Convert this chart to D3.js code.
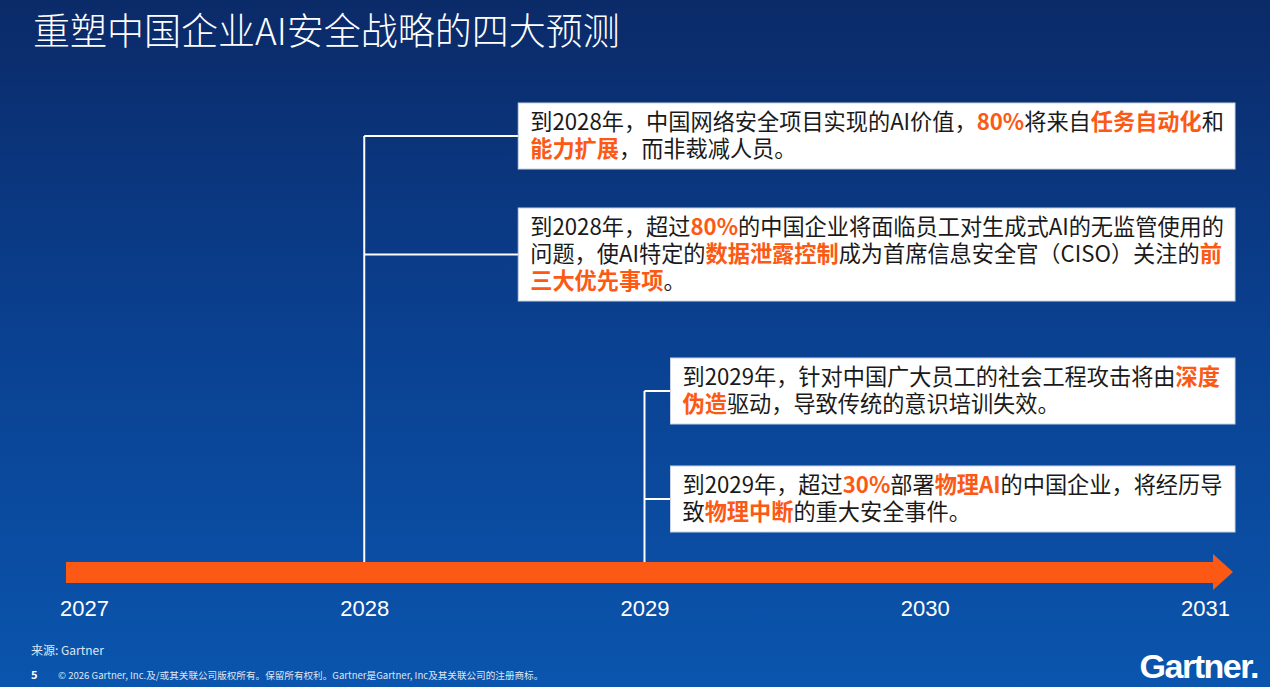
<!DOCTYPE html>
<html><head><meta charset="utf-8">
<script src="https://cdn.jsdelivr.net/npm/d3@7"></script>
<style>
body{margin:0;overflow:hidden;}
svg{font-family:"Noto Sans CJK SC","Noto Sans",sans-serif;}
</style></head>
<body><div class="canvas"></div>
<script>
// data
const years = [2027, 2028, 2029, 2030, 2031];
const eventYears = [2028, 2028, 2029, 2029];
// each event: lines, each line a list of [text, highlighted]
const eventLines = [
  [[['到2028年，中国网络安全项目实现的AI价值，', 0], ['80%', 1], ['将来自', 0], ['任务自动化', 1], ['和', 0]],
   [['能力扩展', 1], ['，而非裁减人员。', 0]]],
  [[['到2028年，超过', 0], ['80%', 1], ['的中国企业将面临员工对生成式AI的无监管使用的', 0]],
   [['问题，使AI特定的', 0], ['数据泄露控制', 1], ['成为首席信息安全官（CISO）关注的', 0], ['前', 1]],
   [['三大优先事项', 1], ['。', 0]]],
  [[['到2029年，针对中国广大员工的社会工程攻击将由', 0], ['深度', 1]],
   [['伪造', 1], ['驱动，导致传统的意识培训失效。', 0]]],
  [[['到2029年，超过', 0], ['30%', 1], ['部署', 0], ['物理AI', 1], ['的中国企业，将经历导', 0]],
   [['致', 0], ['物理中断', 1], ['的重大安全事件。', 0]]]
];

const W = 1270, H = 687;
const orange = '#fc5a14';
const svg = d3.select('.canvas').append('svg').attr('width', W).attr('height', H);

const grad = svg.append('defs').append('linearGradient').attr('id', 'bg')
  .attr('x1', 0).attr('y1', 0).attr('x2', 0).attr('y2', 1);
grad.append('stop').attr('offset', '0%').attr('stop-color', '#0b2a68');
grad.append('stop').attr('offset', '45%').attr('stop-color', '#0a3f8e');
grad.append('stop').attr('offset', '100%').attr('stop-color', '#0a55ae');
svg.append('rect').attr('width', W).attr('height', H).attr('fill', 'url(#bg)');

svg.append('text').attr('x', 33).attr('y', 45).attr('fill', '#fff')
  .attr('font-size', 37).attr('font-weight', 300).text('重塑中国企业AI安全战略的四大预测');

// timeline scale
const x = d3.scaleLinear().domain([2027, 2031]).range([84, 1205]);
const axisY = 572;

svg.append('rect').attr('x', 66).attr('y', axisY - 10).attr('width', 1215 - 66).attr('height', 21).attr('fill', orange);
svg.append('path').attr('d', `M1213,${axisY - 18}L1233,${axisY}L1213,${axisY + 18}Z`).attr('fill', orange);

const axis = d3.axisBottom(x).tickValues(years).tickFormat(d3.format('d')).tickSize(0).tickPadding(0);
const ag = svg.append('g').attr('transform', `translate(0,${axisY + 44})`).call(axis);
ag.select('.domain').remove();
ag.selectAll('text').attr('fill', '#fff').attr('dy', 0)
  .style('font-size', '22px').style('font-family', '"Liberation Sans", Arial, sans-serif');

// boxes layout
const boxTops = [103, 208, 358, 466];
const lineH = 27;
const boxRight = 1235;
const groups = d3.groups(eventYears.map((y, i) => ({y, i})), d => d.y);

groups.forEach(([yr, evs]) => {
  const cx = x(yr);
  const mids = evs.map(e => boxTops[e.i] + (eventLines[e.i].length * lineH + 12) / 2);
  svg.append('line').attr('x1', cx).attr('x2', cx).attr('y1', mids[0]).attr('y2', axisY - 10)
    .attr('stroke', '#fff').attr('stroke-width', 2);
});

eventLines.forEach((lines, i) => {
  const yr = eventYears[i];
  const left = x(yr) + (yr === 2028 ? 154 : 26);
  const top = boxTops[i];
  const h = lines.length * lineH + 12;
  svg.append('line').attr('x1', x(yr)).attr('x2', left).attr('y1', top + h / 2).attr('y2', top + h / 2)
    .attr('stroke', '#fff').attr('stroke-width', 2);
  svg.append('rect').attr('x', left).attr('y', top).attr('width', boxRight - left).attr('height', h)
    .attr('fill', '#fff').attr('stroke', '#c9d3e3').attr('stroke-width', 1);
  lines.forEach((segs, j) => {
    const t = svg.append('text').attr('x', left + 12).attr('y', top + 27 + j * lineH)
      .attr('font-size', 22.2).attr('fill', '#1a1a1a');
    segs.forEach(([s, hl]) => {
      t.append('tspan').text(s).attr('fill', hl ? orange : '#1a1a1a').attr('font-weight', hl ? 700 : 400);
    });
  });
});

// footer
svg.append('text').attr('x', 31).attr('y', 655).attr('fill', '#dfe6f2').attr('font-size', 12).text('来源: Gartner');
svg.append('text').attr('x', 31).attr('y', 679).attr('fill', '#fff').attr('font-size', 11).attr('font-weight', 700).text('5');
svg.append('text').attr('x', 58).attr('y', 679).attr('fill', '#dfe6f2').attr('font-size', 9.6)
  .text('© 2026 Gartner, Inc.及/或其关联公司版权所有。保留所有权利。Gartner是Gartner, Inc及其关联公司的注册商标。');
svg.append('text').attr('x', 1258).attr('y', 678).attr('text-anchor', 'end').attr('fill', '#fff')
  .attr('font-weight', 700).attr('letter-spacing', -1.5)
  .style('font-size', '34px').style('font-family', '"Liberation Sans", Arial, sans-serif').text('Gartner.');
</script></body></html>
